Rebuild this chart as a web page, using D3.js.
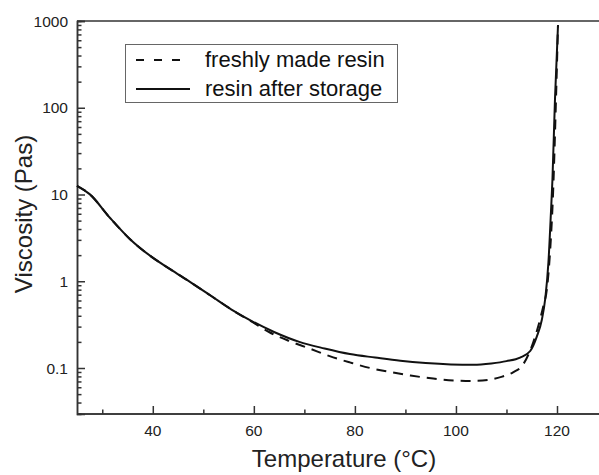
<!DOCTYPE html>
<html>
<head>
<meta charset="utf-8">
<script src="https://cdn.jsdelivr.net/npm/d3@7"></script>
<style>
    body { margin: 0; background: #fff; }
    svg { display: block; font-family: "Liberation Sans", Arial, sans-serif; }
    .tick-label { font-size: 15.5px; fill: #222; }
    .axis-label { font-size: 24px; fill: #222; }
    .legend-text { font-size: 22px; fill: #111; }
</style>
</head>
<body>
<script>
// Chart size
const width = 599;
const height = 475;
const margin = { top: 21, right: 0, bottom: 61, left: 77 };

// Resin after storage (solid line)
const storageTemp = [25, 27.5, 31.5, 35.5, 39.5, 43.5, 47.5, 51.5, 55.5, 59.5, 64, 69, 74, 79, 84, 89, 94, 99, 103.5, 107, 110, 112.7, 114.7, 116, 117, 117.7, 118.3, 118.8, 119.1, 119.6, 120.2];
const storageVisc = [12.6, 10.1, 5.4, 3.05, 1.96, 1.37, 0.97, 0.68, 0.475, 0.35, 0.26, 0.2, 0.168, 0.145, 0.132, 0.121, 0.114, 0.11, 0.109, 0.113, 0.12, 0.132, 0.157, 0.23, 0.36, 0.65, 1.64, 6.2, 15, 125, 900];

// Freshly made resin (dashed line)
const freshTemp = [25, 27.5, 31.5, 35.5, 39.5, 43.5, 47.5, 51.5, 55.5, 59.5, 63, 67, 71, 75, 79, 83, 87, 91, 95.5, 99.5, 103.5, 106.5, 109, 111.3, 113.3, 115.3, 116.3, 117.3, 118, 118.7, 119.2, 119.8, 120.2];
const freshVisc = [12.6, 10.1, 5.4, 3.05, 1.96, 1.37, 0.97, 0.68, 0.475, 0.345, 0.26, 0.205, 0.168, 0.137, 0.116, 0.1, 0.09, 0.082, 0.0755, 0.072, 0.071, 0.073, 0.079, 0.089, 0.11, 0.198, 0.305, 0.52, 0.81, 2.55, 9.6, 125, 900];

// Tick labels
const xTicks = [40, 60, 80, 100, 120];
const xMinorTicks = [30, 50, 70, 90, 110, 130];
const yTicks = [0.1, 1, 10, 100, 1000];

const seriesNames = ["freshly made resin", "resin after storage"];

const svg = d3.select("body")
    .append("svg")
    .attr("width", width)
    .attr("height", height);

// Scales (x runs past the right edge, as in the original)
const xScale = d3.scaleLinear()
    .domain([25, 120])
    .range([margin.left, 557]);

const yScale = d3.scaleLog()
    .domain([0.0295, 1000])
    .range([height - margin.bottom, margin.top]);

const x0 = margin.left;
const y0 = height - margin.bottom;

// Minor log ticks: 2..9 of each decade
const yMinor = [];
[0.01, 0.1, 1, 10, 100].forEach(dec => {
    for (let k = 2; k <= 9; k++) {
        const v = dec * k;
        if (v >= yScale.domain()[0] && v < 1000) yMinor.push(v);
    }
});

// Top frame line
svg.append("line")
    .attr("x1", x0).attr("x2", width)
    .attr("y1", margin.top).attr("y2", margin.top)
    .attr("stroke", "#333").attr("stroke-width", 1.5);

// Y axis, ticks inward
const yAxis = d3.axisRight(yScale)
    .tickValues(yTicks)
    .tickSize(8)
    .tickFormat("");
const yAxisMinor = d3.axisRight(yScale)
    .tickValues(yMinor)
    .tickSize(4.5)
    .tickFormat("");

[yAxis, yAxisMinor].forEach(ax => {
    svg.append("g")
        .attr("transform", `translate(${x0},0)`)
        .call(ax)
        .call(g => g.selectAll("line").attr("stroke", "#333").attr("stroke-width", 1.5))
        .call(g => g.select(".domain").attr("stroke", "#333").attr("stroke-width", 1.5));
});

// X axis, ticks inward
const xAxis = d3.axisTop(xScale)
    .tickValues(xTicks)
    .tickSize(8)
    .tickFormat("");
const xAxisMinor = d3.axisTop(xScale)
    .tickValues(xMinorTicks)
    .tickSize(4.5)
    .tickFormat("");

[xAxis, xAxisMinor].forEach(ax => {
    svg.append("g")
        .attr("transform", `translate(0,${y0})`)
        .call(ax)
        .call(g => g.selectAll("line").attr("stroke", "#333").attr("stroke-width", 1.5))
        .call(g => g.select(".domain").attr("d", `M${x0},0H${width + 10}`).attr("stroke", "#333").attr("stroke-width", 1.5));
});

// Tick labels
svg.selectAll(".ylab")
    .data(yTicks)
    .join("text")
    .attr("class", "tick-label")
    .attr("x", x0 - 9)
    .attr("y", d => yScale(d) + 5.5)
    .attr("text-anchor", "end")
    .text(d => d);

svg.selectAll(".xlab")
    .data(xTicks)
    .join("text")
    .attr("class", "tick-label")
    .attr("x", d => xScale(d))
    .attr("y", y0 + 22)
    .attr("text-anchor", "middle")
    .text(d => d);

// Axis titles
svg.append("text")
    .attr("class", "axis-label")
    .attr("x", 344)
    .attr("y", 467)
    .attr("text-anchor", "middle")
    .text("Temperature (°C)");

svg.append("text")
    .attr("class", "axis-label")
    .attr("transform", "rotate(-90)")
    .attr("x", -214)
    .attr("y", 32)
    .attr("text-anchor", "middle")
    .text("Viscosity (Pas)");

// Curves
const line = d3.line()
    .x(d => xScale(d[0]))
    .y(d => yScale(d[1]))
    .curve(d3.curveMonotoneX);

const freshData = freshTemp.map((t, i) => [t, freshVisc[i]]);
const storageData = storageTemp.map((t, i) => [t, storageVisc[i]]);

svg.append("path")
    .datum(freshData)
    .attr("d", line)
    .attr("fill", "none")
    .attr("stroke", "#111")
    .attr("stroke-width", 2)
    .attr("stroke-dasharray", "10,7");

svg.append("path")
    .datum(storageData)
    .attr("d", line)
    .attr("fill", "none")
    .attr("stroke", "#111")
    .attr("stroke-width", 2);

// Legend
const legend = svg.append("g");
legend.append("rect")
    .attr("x", 125.5).attr("y", 44.5)
    .attr("width", 272).attr("height", 58)
    .attr("fill", "#fff")
    .attr("stroke", "#666").attr("stroke-width", 1);

seriesNames.forEach((name, i) => {
    const ly = 60 + i * 29;
    legend.append("line")
        .attr("x1", 136).attr("x2", 190)
        .attr("y1", ly).attr("y2", ly)
        .attr("stroke", "#111").attr("stroke-width", 2)
        .attr("stroke-dasharray", i === 0 ? "8,10" : null);
    legend.append("text")
        .attr("class", "legend-text")
        .attr("x", 205)
        .attr("y", ly + 7)
        .text(name);
});
</script>
</body>
</html>
